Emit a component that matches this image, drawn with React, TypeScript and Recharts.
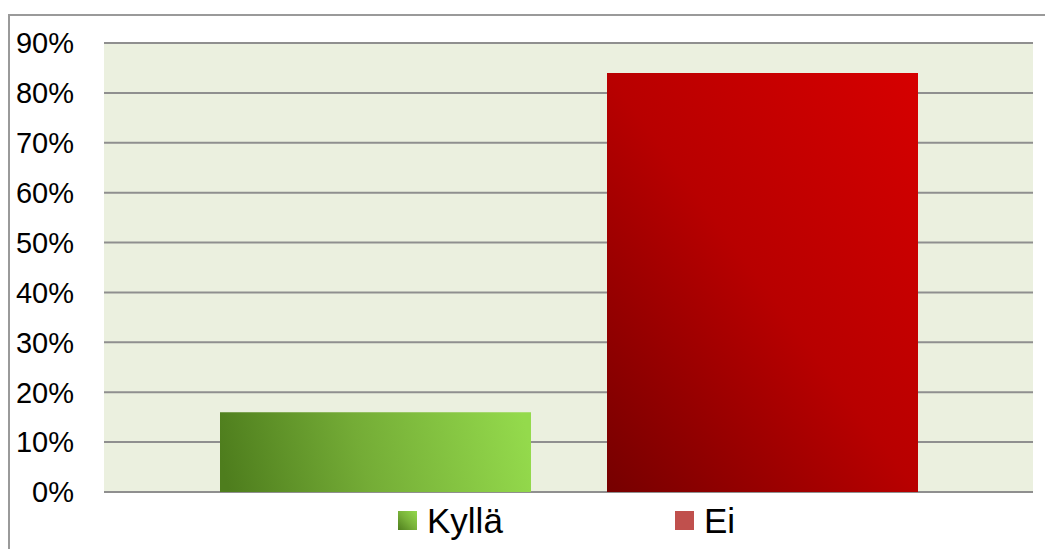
import React from "react";
import { BarChart, Bar, XAxis, YAxis, CartesianGrid, Legend } from "recharts";

const categories = ["Vastaus"];
const seriesNames = ["Kyllä", "Ei"];
const kyllaValues = [0.16];
const eiValues = [0.84];
const yTicks = [0, 0.1, 0.2, 0.3, 0.4, 0.5, 0.6, 0.7, 0.8, 0.9];

const data = categories.map((c, i) => ({
  name: c,
  [seriesNames[0]]: kyllaValues[i],
  [seriesNames[1]]: eiValues[i],
}));

const FONT = "'Liberation Sans', Arial, sans-serif";

const renderLegend = () => {
  const items = [
    { name: seriesNames[0], fill: "linear-gradient(45deg, #4F7F1E 0%, #79B23A 50%, #93D94B 100%)" },
    { name: seriesNames[1], fill: "#C0504D" },
  ];
  return (
    <div
      style={{
        height: 57,
        display: "flex",
        justifyContent: "center",
        alignItems: "center",
        fontFamily: FONT,
        fontSize: 35,
        color: "#000",
        paddingLeft: 92,
      }}
    >
      {items.map((it, i) => (
        <div
          key={it.name}
          style={{ display: "flex", alignItems: "center", marginRight: i === 0 ? 172 : 0 }}
        >
          <span
            style={{ display: "inline-block", width: 19, height: 19, background: it.fill, marginRight: 10 }}
          />
          <span style={{ lineHeight: "40px" }}>{it.name}</span>
        </div>
      ))}
    </div>
  );
};

export default function App() {
  return (
    <div style={{ position: "relative", width: 1045, height: 541 }}>
      <div
        style={{
          position: "absolute",
          left: 0,
          top: 6,
          width: 1045,
          height: 535,
          borderTop: "2px solid #9a9a9a",
          borderLeft: "2px solid #9a9a9a",
          boxSizing: "border-box",
        }}
      />
      <div style={{ position: "absolute", left: 0, top: 0 }}>
        <BarChart
          width={1045}
          height={541}
          data={data}
          margin={{ top: 35, right: 20, bottom: 0, left: 0 }}
          barCategoryGap={116}
          barGap={76}
        >
          <defs>
            <linearGradient id="gGreen" x1="0" y1="0.53" x2="1" y2="0.47">
              <stop offset="0%" stopColor="#4E7D1D" />
              <stop offset="45%" stopColor="#74AC36" />
              <stop offset="100%" stopColor="#94DA4C" />
            </linearGradient>
            <linearGradient id="gRed" x1="0" y1="1" x2="1" y2="0">
              <stop offset="0%" stopColor="#760000" />
              <stop offset="50%" stopColor="#B80000" />
              <stop offset="100%" stopColor="#D60000" />
            </linearGradient>
          </defs>
          <CartesianGrid vertical={false} fill="#EBF0DF" stroke="#8f8f8f" strokeWidth={2} />
          <XAxis dataKey="name" hide />
          <YAxis
            width={96}
            domain={[0, 0.9]}
            ticks={yTicks}
            interval={0}
            axisLine={false}
            tickLine={false}
            tickSize={0}
            tickMargin={30}
            tickFormatter={(v: number) => `${Math.round(v * 100)}%`}
            tick={{ fill: "#000", fontSize: 29, fontFamily: FONT }}
          />
          <Legend verticalAlign="bottom" content={renderLegend} />
          <Bar dataKey={seriesNames[0]} fill="url(#gGreen)" isAnimationActive={false} />
          <Bar dataKey={seriesNames[1]} fill="url(#gRed)" isAnimationActive={false} />
        </BarChart>
      </div>
    </div>
  );
}
